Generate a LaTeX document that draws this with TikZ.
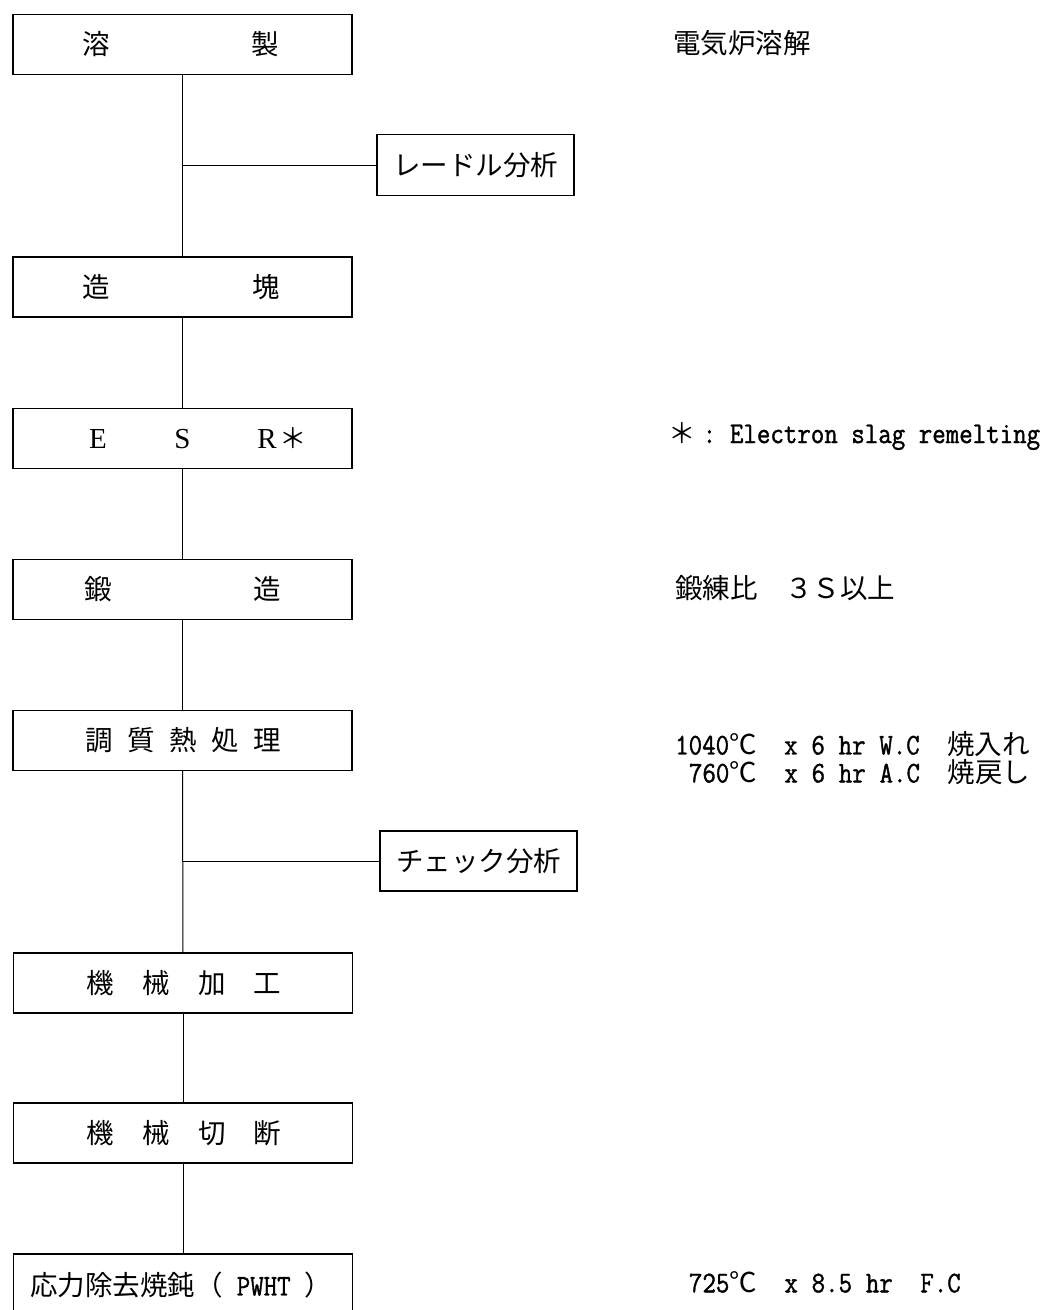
\documentclass[tikz,border=0pt]{standalone}
\usepackage{fontspec}
\newfontfamily\cjk{Noto Sans CJK JP}
\newfontfamily\serifl{Liberation Serif}
\newfontfamily\monof{Latin Modern Mono}[FakeStretch=0.873, FakeBold=1.2]
\newcommand\cj{\cjk\fontsize{27.5}{28}\selectfont}
\newcommand\mon{\monof\fontsize{30}{30}\selectfont}
\newcommand\rmf{\serifl\fontsize{29}{29}\selectfont}
\newdimen\hw \hw=13.75pt
\newcommand\putch[2]{\rlap{\hskip#1pt\makebox[0pt]{#2}}}
\begin{document}
\begin{tikzpicture}[x=1pt,y=-1pt,
  stepbox/.style={draw, line width=1.1pt, inner sep=0pt, minimum width=339pt, minimum height=60pt, font=\cj},
  sidebox/.style={draw, line width=1.1pt, inner sep=0pt, minimum width=197pt, minimum height=61pt, font=\cj},
  note/.style={anchor=west, inner sep=0pt, font=\cj},
  conn/.style={line width=1pt}]
\fill[white] (0,0) rectangle (1054,1310);
\useasboundingbox (0,0) rectangle (1054,1310);
\clip (0,0) rectangle (1054,1310);

\node[stepbox] (B1) at (182.5,44.5) {\hbox to 339pt{\putch{83}{溶}\putch{252}{製}\hss}};
\node[stepbox] (B2) at (182.5,287) {\hbox to 339pt{\putch{83}{造}\putch{253}{塊}\hss}};
\node[stepbox] (B3) at (182.5,438.5) {\hbox to 339pt{\putch{85}{\rmf E}\putch{169.5}{\rmf S}\putch{254}{\rmf R}\putch{280.5}{＊}\hss}};
\node[stepbox] (B4) at (182.5,589.5) {\hbox to 339pt{\putch{85}{鍛}\putch{254}{造}\hss}};
\node[stepbox] (B5) at (182.5,740.5) {\hbox to 339pt{\putch{86}{調}\putch{128}{質}\putch{170}{熱}\putch{212}{処}\putch{254}{理}\hss}};
\node[stepbox] (B6) at (183,983) {\hbox to 339pt{\putch{87}{機}\putch{143}{械}\putch{199}{加}\putch{254}{工}\hss}};
\node[stepbox] (B7) at (183,1133) {\hbox to 339pt{\putch{87}{機}\putch{143}{械}\putch{199}{切}\putch{254}{断}\hss}};
\node[stepbox, minimum height=62pt] (B8) at (183,1285) {\hbox to 339pt{\hskip17pt 応力除去焼鈍（{\mon\hskip\hw PWHT\hskip\hw}）\hss}};

\node[sidebox] (L1) at (475.5,165) {レードル分析};
\node[sidebox, minimum height=60pt] (L2) at (478.5,861) {チェック分析};

\coordinate (j1) at (B1.south |- L1.west);
\coordinate (j2) at (B5.south |- L2.west);

\draw[conn] (B1.south) -- (B2.north);
\draw[conn] (j1) -- (L1.west);
\draw[conn] (B2.south) -- (B3.north);
\draw[conn] (B3.south) -- (B4.north);
\draw[conn] (B4.south) -- (B5.north);
\draw[conn] (B5.south) -- (B6.north);
\draw[conn] (j2) -- (L2.west);
\draw[conn] (B6.south) -- (B7.north);
\draw[conn] (B7.south) -- (B8.north);

\node[note] (T1) at (673,43) {電気炉溶解};
\node[note] (T2) at (675,436) {\makebox[\hw]{＊}{\mon\hskip\hw:\hskip\hw Electron slag remelting}};
\node[note] (T3) at (675,588) {鍛練比　３Ｓ以上};
\node[note] (T4) at (675,744) {{\mon 1040}℃\hskip2\hw{\mon x\hskip\hw 6\hskip\hw hr\hskip\hw W.C}\hskip2\hw 焼入れ};
\node[note] (T5) at (675,772) {\hskip\hw{\mon 760}℃\hskip2\hw{\mon x\hskip\hw 6\hskip\hw hr\hskip\hw A.C}\hskip2\hw 焼戻し};
\node[note] (T6) at (675,1282) {\hskip\hw{\mon 725}℃\hskip2\hw{\mon x\hskip\hw 8.5\hskip\hw hr\hskip2\hw F.C}};
\end{tikzpicture}
\end{document}
